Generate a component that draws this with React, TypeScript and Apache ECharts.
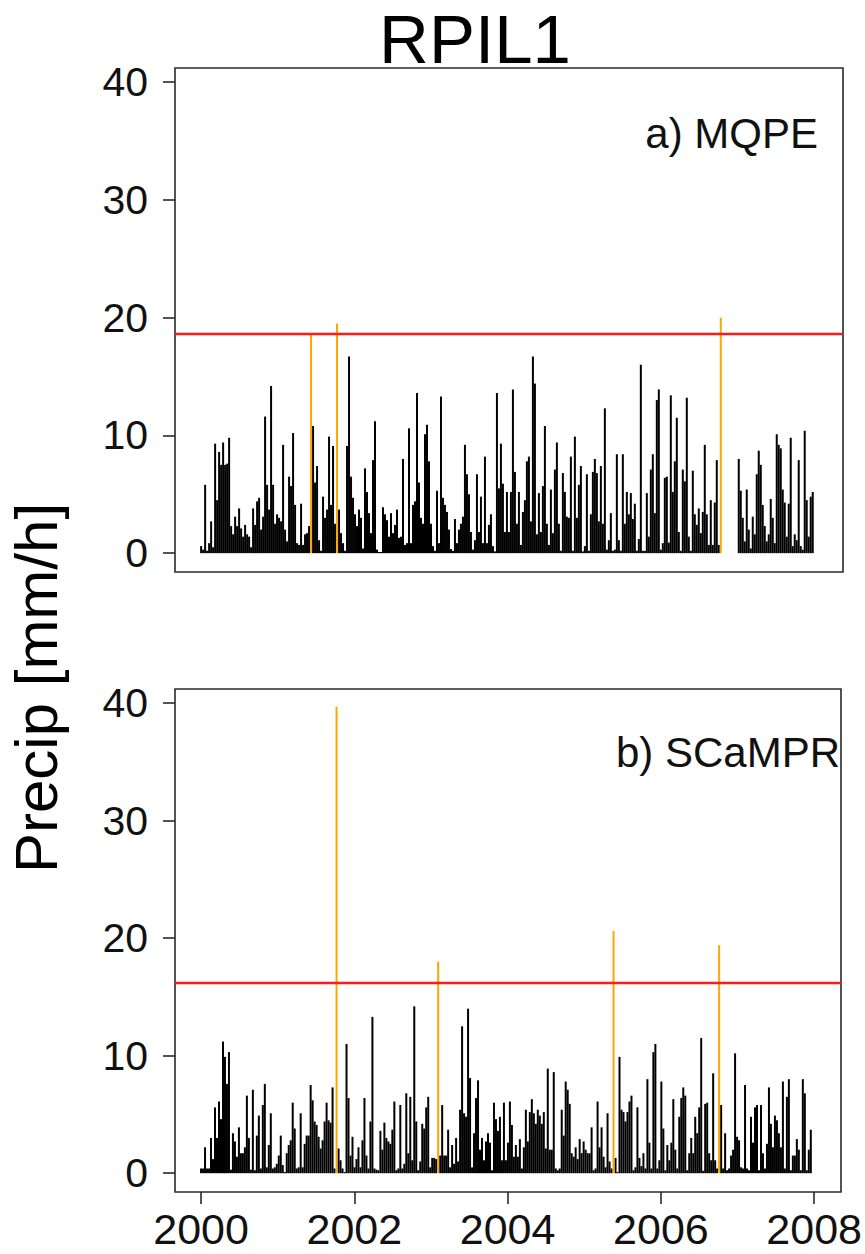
import { useEffect, useRef } from "react";
import * as echarts from "echarts";

// ---- data -------------------------------------------------------------
const START_YEAR = 2000;
const STEP_YEARS = 0.026; // spacing of the plotted samples, in years

// a) MQPE precipitation samples [mm/h] (null = missing data)
const mqpe: (number | null)[] = [
  0.6, 0.3, 5.8, 0.2, 0.85, 2.7, 0.5, 9.3, 4.5, 8.6,
  7.5, 9.4, 7.5, 7.6, 9.8, 2.3, 1.6, 3.1, 2.3, 3.8,
  2.1, 1.4, 2.4, 1.6, 1.4, 0.5, 3.8, 2.4, 4.4, 4.7,
  2.0, 3.1, 11.6, 5.8, 3.7, 14.2, 5.8, 2.5, 3.3, 3.0,
  2.7, 9.2, 2.0, 1.0, 6.5, 5.7, 10.2, 4.1, 0.85, 0.7,
  4.2, 0.7, 1.6, 1.7, 2.3, 18.7, 10.8, 6.0, 7.4, 1.1,
  0.2, 4.8, 3.0, 3.7, 9.9, 4.1, 9.1, 2.5, 19.5, 3.7,
  1.7, 0.85, 0.2, 9.1, 16.7, 6.5, 4.7, 3.3, 2.3, 3.7,
  3.0, 0.4, 7.2, 5.2, 3.4, 1.7, 7.9, 11.2, 0.3, 0.1,
  0.1, 3.9, 3.3, 2.8, 1.4, 3.4, 1.7, 2.4, 3.7, 1.3,
  1.4, 8.0, 0.7, 0.85, 10.6, 0.85, 4.1, 4.4, 13.6, 6.0,
  3.0, 2.5, 10.1, 10.9, 7.8, 2.5, 0.6, 0.2, 5.3, 0.85,
  13.3, 4.7, 4.1, 3.5, 2.0, 0.35, 0.2, 2.9, 0.85, 2.0,
  2.5, 3.1, 9.2, 6.7, 5.0, 1.8, 0.3, 1.1, 6.7, 1.8,
  4.8, 0.85, 8.2, 0.85, 2.4, 3.3, 0.6, 0.15, 13.6, 5.5,
  9.3, 5.9, 1.8, 5.2, 1.8, 5.2, 13.9, 6.9, 2.5, 5.2,
  0.7, 3.5, 4.5, 7.8, 8.2, 2.7, 16.7, 14.4, 1.6, 5.1,
  1.8, 5.7, 10.8, 2.5, 0.7, 5.4, 1.7, 7.1, 9.4, 2.5,
  0.2, 6.8, 5.2, 3.1, 3.0, 8.2, 0.2, 9.9, 3.0, 5.8,
  7.4, 0.15, 0.6, 6.7, 0.2, 3.3, 6.9, 8.0, 6.8, 2.7,
  7.4, 2.5, 12.3, 0.3, 1.1, 3.4, 0.2, 0.3, 8.4, 1.1,
  0.2, 8.4, 2.5, 5.2, 3.3, 5.1, 2.9, 4.2, 0.2, 1.2,
  16.0, 0.2, 0.2, 5.1, 1.4, 7.1, 8.4, 3.4, 13.0, 13.9,
  0.3, 0.85, 6.4, 6.5, 0.9, 13.4, 5.2, 7.8, 11.5, 1.8,
  0.2, 7.1, 6.1, 13.2, 1.4, 0.2, 7.0, 3.3, 2.4, 3.8,
  1.7, 3.5, 9.2, 3.3, 0.7, 4.5, 0.7, 4.3, 7.9, 0.7,
  20.0, null, null, null, null, null, null, null, null, 8.0,
  5.3, 3.0, 1.0, 5.4, 2.0, 0.4, 3.1, 1.6, 6.7, 8.7,
  7.5, 4.1, 2.3, 1.0, 1.6, 4.6, 3.0, 0.85, 10.1, 9.2,
  8.9, 5.4, 4.3, 1.4, 4.2, 9.8, 0.6, 1.6, 1.1, 7.9,
  0.6, 0.3, 10.4, 4.5, 1.4, 4.8, 5.2,
];

// b) SCaMPR precipitation samples [mm/h]
const scampr: (number | null)[] = [
  0.4, 0.4, 2.2, 0.4, 0.4, 3.0, 1.2, 5.6, 3.0, 6.1,
  4.6, 11.2, 9.9, 7.6, 10.3, 0.3, 3.4, 2.7, 1.4, 3.9,
  1.7, 1.7, 2.2, 6.6, 3.0, 0.3, 7.1, 0.25, 3.2, 4.9,
  0.4, 5.8, 7.6, 0.5, 2.4, 5.1, 0.4, 0.5, 0.8, 1.5,
  3.2, 0.7, 0.1, 1.7, 2.4, 2.8, 6.0, 3.8, 0.4, 0.5,
  5.1, 0.5, 2.5, 3.2, 3.2, 7.5, 6.2, 4.4, 4.1, 3.1,
  2.1, 2.8, 4.4, 6.0, 4.5, 4.3, 7.3, 0.4, 39.7, 2.1,
  1.1, 0.4, 0.1, 11.0, 6.4, 1.5, 3.1, 0.5, 1.2, 2.2,
  0.5, 2.8, 6.4, 1.5, 0.4, 4.4, 13.3, 0.4, 0.3, 0.25,
  3.6, 2.0, 4.3, 3.0, 2.7, 2.5, 3.7, 6.1, 0.25, 0.4,
  5.8, 0.4, 0.8, 6.8, 1.7, 6.5, 1.1, 14.2, 4.4, 0.25,
  1.0, 4.2, 3.8, 5.6, 6.5, 0.5, 1.3, 1.3, 1.2, 18.0,
  1.5, 5.8, 1.5, 1.5, 3.7, 0.5, 2.4, 0.8, 3.0, 1.0,
  5.4, 12.5, 5.1, 4.8, 14.0, 8.1, 0.5, 3.4, 6.4, 7.9,
  2.0, 3.0, 1.1, 2.7, 3.4, 2.6, 0.25, 6.0, 4.6, 3.6,
  4.8, 1.1, 6.0, 1.1, 2.6, 6.1, 4.1, 1.4, 2.4, 1.4,
  2.9, 0.4, 2.2, 5.4, 2.7, 5.2, 6.3, 5.1, 4.2, 5.4,
  4.9, 4.2, 5.2, 2.1, 8.9, 2.0, 2.0, 8.6, 0.4, 0.25,
  0.4, 5.4, 3.2, 7.8, 7.1, 5.9, 1.7, 1.4, 2.2, 1.2,
  2.9, 1.7, 2.7, 2.0, 1.7, 1.7, 3.9, 0.25, 0.4, 6.1,
  2.2, 3.9, 1.4, 0.5, 5.1, 1.0, 0.4, 20.6, 1.3, 0.1,
  9.9, 5.4, 5.2, 4.4, 5.2, 6.1, 6.6, 0.25, 0.5, 5.6,
  1.3, 0.6, 1.7, 0.4, 8.0, 2.6, 0.4, 10.3, 11.0, 0.4,
  1.1, 7.8, 3.8, 0.25, 2.4, 1.1, 2.6, 6.3, 2.0, 0.4,
  4.8, 6.4, 7.3, 6.6, 0.25, 1.7, 3.0, 1.7, 4.8, 3.4,
  5.6, 11.5, 0.2, 5.9, 6.0, 1.7, 1.1, 8.5, 1.1, 0.4,
  19.4, 5.8, 0.4, 3.4, 0.25, 0.4, 1.5, 2.0, 10.2, 3.1,
  2.8, 0.5, 0.4, 7.5, 0.4, 0.25, 4.8, 2.6, 5.6, 5.8,
  0.25, 5.8, 1.7, 0.4, 2.5, 7.3, 4.2, 2.2, 4.9, 4.5,
  3.4, 2.2, 7.8, 0.4, 6.5, 8.0, 0.25, 1.5, 1.5, 2.9,
  2.0, 0.25, 8.0, 6.8, 0.25, 2.0, 3.7,
];

// thresholds (red lines) [mm/h]
const mqpeThreshold = 18.6;
const scamprThreshold = 16.2;

const yTicks = [0, 10, 20, 30, 40];
const xTicks = [2000, 2002, 2004, 2006, 2008];
const titleText = "RPIL1";
const yAxisTitle = "Precip [mm/h]";
const panelLabels = ["a) MQPE", "b) SCaMPR"];

// ---- chart ------------------------------------------------------------
const FONT = "'Liberation Sans', Arial, Helvetica, sans-serif";
const BLACK = "#000000";
const ORANGE = "#FFA500";
const RED = "#FF1A1A";
const AXIS = "#2a2a2a";

type Pt = [number, number];

function toPoints(values: (number | null)[]): Pt[] {
  const out: Pt[] = [];
  values.forEach((v, i) => {
    if (v !== null) out.push([START_YEAR + i * STEP_YEARS, v]);
  });
  return out;
}

function spikeSeries(
  data: Pt[],
  idx: number,
  color: string,
  width: number,
  z: number
) {
  return {
    type: "custom",
    xAxisIndex: idx,
    yAxisIndex: idx,
    clip: true,
    z,
    encode: { x: 0, y: 1 },
    data,
    renderItem: (_params: any, api: any) => {
      const x = api.value(0);
      const v = api.value(1);
      const p0 = api.coord([x, 0]);
      const p1 = api.coord([x, v]);
      return {
        type: "line",
        shape: { x1: p0[0], y1: p0[1], x2: p1[0], y2: p1[1] },
        style: { stroke: color, lineWidth: width, lineCap: "butt" },
      };
    },
  };
}

export default function App() {
  const ref = useRef<HTMLDivElement | null>(null);

  useEffect(() => {
    if (!ref.current) return;
    const chart = echarts.init(ref.current, undefined, { renderer: "svg" });

    const panels = [
      { values: mqpe, thr: mqpeThreshold },
      { values: scampr, thr: scamprThreshold },
    ];

    const grids = [
      { left: 175, top: 68, width: 668, height: 504 },
      { left: 175, top: 689, width: 668, height: 503 },
    ].map((g) => ({
      ...g,
      show: true,
      borderColor: AXIS,
      borderWidth: 1.6,
      backgroundColor: "transparent",
    }));

    const xAxes = [0, 1].map((i) => ({
      type: "value",
      gridIndex: i,
      position: "bottom",
      min: 1999.66,
      max: 2008.35,
      axisLine: { show: false, onZero: false },
      splitLine: { show: false },
      axisTick: {
        show: i === 1,
        customValues: xTicks,
        length: 12,
        lineStyle: { color: AXIS, width: 1.6 },
      },
      axisLabel: {
        show: i === 1,
        customValues: xTicks,
        fontSize: 43,
        fontFamily: FONT,
        color: "#111",
        margin: 15,
        formatter: (v: number) => String(Math.round(v)),
      },
    }));

    const yAxes = [0, 1].map((i) => ({
      type: "value",
      gridIndex: i,
      position: "left",
      min: -1.6,
      max: 41.2,
      axisLine: { show: false, onZero: false },
      splitLine: { show: false },
      axisTick: {
        show: true,
        customValues: yTicks,
        length: 12,
        lineStyle: { color: AXIS, width: 1.6 },
      },
      axisLabel: {
        customValues: yTicks,
        fontSize: 41,
        fontFamily: FONT,
        color: "#111",
        margin: 27,
        formatter: (v: number) => String(Math.round(v)),
      },
    }));

    const series: any[] = [];
    panels.forEach((p, i) => {
      const pts = toPoints(p.values);
      const low = pts.filter((d) => d[1] <= p.thr);
      const high = pts.filter((d) => d[1] > p.thr);
      series.push(spikeSeries(low, i, BLACK, 2, 2));
      series.push(spikeSeries(high, i, ORANGE, 2, 3));
      series.push({
        type: "line",
        xAxisIndex: i,
        yAxisIndex: i,
        data: [],
        z: 4,
        markLine: {
          silent: true,
          symbol: ["none", "none"],
          label: { show: false },
          lineStyle: { color: RED, width: 2.4, type: "solid" },
          data: [{ yAxis: p.thr }],
        },
      });
    });

    chart.setOption({
      animation: false,
      backgroundColor: "#ffffff",
      grid: grids,
      xAxis: xAxes,
      yAxis: yAxes,
      series,
      graphic: [
        {
          type: "text",
          x: 475,
          y: 39,
          style: {
            text: titleText,
            font: `69px ${FONT}`,
            fill: "#000",
            align: "center",
            verticalAlign: "middle",
          },
        },
        {
          type: "text",
          x: 36,
          y: 688,
          rotation: Math.PI / 2,
          style: {
            text: yAxisTitle,
            font: `60px ${FONT}`,
            fill: "#000",
            align: "center",
            verticalAlign: "middle",
          },
        },
        {
          type: "text",
          x: 818,
          y: 133,
          style: {
            text: panelLabels[0],
            font: `42px ${FONT}`,
            fill: "#111",
            align: "right",
            verticalAlign: "middle",
          },
        },
        {
          type: "text",
          x: 840,
          y: 752,
          style: {
            text: panelLabels[1],
            font: `42px ${FONT}`,
            fill: "#111",
            align: "right",
            verticalAlign: "middle",
          },
        },
      ],
    });

    return () => chart.dispose();
  }, []);

  return (
    <div
      ref={ref}
      style={{
        position: "fixed",
        left: 0,
        top: 0,
        width: 865,
        height: 1254,
        background: "#fff",
      }}
    />
  );
}
